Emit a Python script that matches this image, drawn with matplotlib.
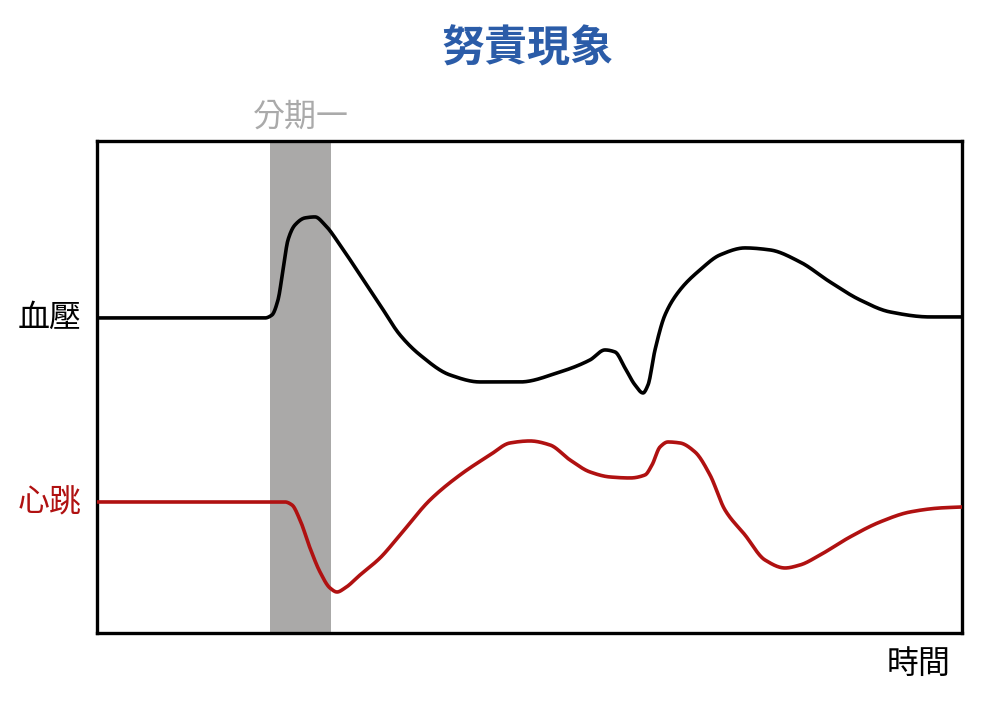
import numpy as np
import matplotlib
matplotlib.use("Agg")
import matplotlib.pyplot as plt

plt.rcParams['font.family'] = ['Noto Sans CJK TC', 'DejaVu Sans']

# ---- data (time units 0..865, value units 0..492) ----
bp_t = [0, 168, 175, 181, 186, 191, 198, 208, 218, 228, 243, 263, 283, 303, 323, 353,
        383, 423, 463, 493, 508, 518, 528, 538, 546, 551, 558, 568, 583, 603, 623, 648,
        673, 703, 733, 763, 793, 833, 865]
bp_v = [315, 315, 318, 333, 363, 393, 408, 415, 416, 408, 388, 358, 328, 298, 278, 258,
        251, 251, 261, 273, 283, 281, 265, 248, 240, 248, 283, 318, 343, 363, 378, 385,
        383, 371, 351, 333, 321, 316, 316]
hr_t = [0, 188, 195, 203, 213, 223, 233, 240, 248, 263, 283, 303, 333, 363, 393, 413,
        433, 453, 473, 493, 513, 533, 548, 555, 563, 571, 583, 598, 613, 628, 648, 668,
        688, 703, 723, 753, 783, 813, 843, 865]
hr_v = [131, 131, 128, 113, 85, 61, 45, 41, 45, 58, 75, 98, 133, 158, 178, 190,
        192, 188, 173, 161, 156, 155, 158, 168, 186, 191, 190, 181, 158, 123, 98, 73,
        65, 68, 78, 96, 111, 121, 125, 126]
phase_span = [173, 234]
labels = {"title": "努責現象", "phase": "分期一", "bp": "血壓", "hr": "心跳", "time": "時間"}


def pchip(x, y, n=400):
    """Monotone cubic Hermite (Fritsch-Carlson) evaluated on a fine grid."""
    x = np.asarray(x, float); y = np.asarray(y, float)
    h = np.diff(x); d = np.diff(y) / h
    m = np.zeros_like(y)
    for k in range(1, len(x) - 1):
        if d[k - 1] * d[k] > 0:
            w1 = 2 * h[k] + h[k - 1]; w2 = h[k] + 2 * h[k - 1]
            m[k] = (w1 + w2) / (w1 / d[k - 1] + w2 / d[k])
    m[0] = d[0]; m[-1] = d[-1]
    xs = np.linspace(x[0], x[-1], n * 4)
    idx = np.clip(np.searchsorted(x, xs) - 1, 0, len(x) - 2)
    t = (xs - x[idx]) / h[idx]
    h00 = 2 * t**3 - 3 * t**2 + 1; h10 = t**3 - 2 * t**2 + t
    h01 = -2 * t**3 + 3 * t**2; h11 = t**3 - t**2
    ys = h00 * y[idx] + h10 * h[idx] * m[idx] + h01 * y[idx + 1] + h11 * h[idx] * m[idx + 1]
    return xs, ys


fig = plt.figure(figsize=(10, 7.01), dpi=100)
ax = fig.add_axes([0.097, 0.097, 0.865, 0.702])
ax.set_xlim(0, 865)
ax.set_ylim(0, 492)

ax.axvspan(phase_span[0], phase_span[1], color='#aaa9a8', lw=0, zorder=1)

x, y = pchip(bp_t, bp_v)
ax.plot(x, y, color='black', lw=2.6, solid_capstyle='round', solid_joinstyle='round', zorder=3)
x, y = pchip(hr_t, hr_v)
ax.plot(x, y, color='#b01111', lw=2.6, solid_capstyle='round', solid_joinstyle='round', zorder=3)

ax.set_xticks([]); ax.set_yticks([])
for s in ax.spines.values():
    s.set_linewidth(2.4)
    s.set_color('black')

ax.text(-0.018, bp_v[0], labels["bp"], transform=ax.get_yaxis_transform(),
        ha='right', va='center', fontsize=23, color='black', fontweight='medium')
ax.text(-0.018, hr_v[0], labels["hr"], transform=ax.get_yaxis_transform(),
        ha='right', va='center', fontsize=23, color='#b01111', fontweight='medium')
ax.text(np.mean(phase_span), 1.05, labels["phase"], transform=ax.get_xaxis_transform(),
        ha='center', va='center', fontsize=23, color='#aaaaaa', fontweight='medium')
ax.text(0.950, -0.062, labels["time"], transform=ax.transAxes,
        ha='center', va='center', fontsize=23, color='black', fontweight='medium')
fig.text(0.527, 0.931, labels["title"], ha='center', va='center', fontsize=31,
         fontweight='bold', color='#2b5ca8')

fig.savefig("out.png", dpi=100, facecolor='white')
